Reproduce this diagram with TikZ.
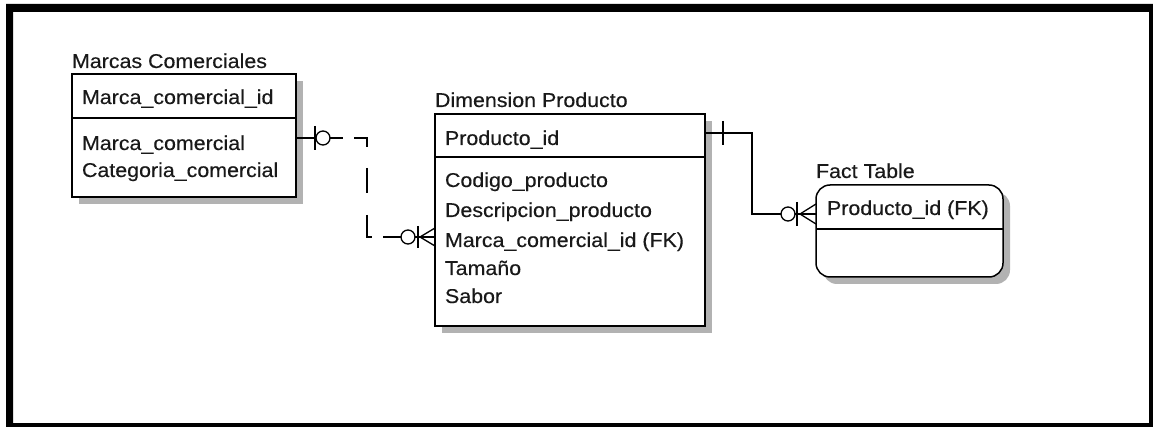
\documentclass[tikz,border=0pt]{standalone}
\usepackage{fontspec}
\setmainfont{Liberation Sans}[FakeStretch=1.07,FakeBold=0.3]
\usetikzlibrary{calc}
\begin{document}
\begin{tikzpicture}[x=1pt,y=-1pt,
  ent/.style={draw=black, line width=1.5pt, fill=white, inner sep=0pt, outer sep=0pt, anchor=north west},
  shad/.style={fill=gray!60, draw=none, inner sep=0pt, outer sep=0pt, anchor=north west},
  txt/.style={anchor=base west, inner sep=0pt, outer sep=0pt, text=black!90, font=\fontsize{20}{22}\selectfont},
  rel/.style={line width=1.3pt},
  sep/.style={line width=1.5pt},
]
\useasboundingbox (0,0) rectangle (1153,427);
\fill[white] (0,0) rectangle (1153,427);
% outer frame
\fill[black, even odd rule] (6,4) rectangle (1153,427) (13,12) rectangle (1149,423);

% Marcas Comerciales
\node[shad, minimum width=224pt, minimum height=123pt] (mcs) at (79,81) {};
\node[ent, minimum width=224pt, minimum height=123pt] (mc) at (72,74) {};
\draw[sep] ($(mc.north west)+(0,44)$) -- ($(mc.north east)+(0,44)$);
\node[txt] (mct) at (72,68) {Marcas Comerciales};
\node[txt] (mc1) at (82,104) {Marca\_comercial\_id};
\node[txt] (mc2) at (82,150) {Marca\_comercial};
\node[txt] (mc3) at (82,177) {Categoria\_comercial};

% Dimension Producto
\node[shad, minimum width=270pt, minimum height=212pt] (dps) at (442,121) {};
\node[ent, minimum width=270pt, minimum height=212pt] (dp) at (435,114) {};
\draw[sep] ($(dp.north west)+(0,43)$) -- ($(dp.north east)+(0,43)$);
\node[txt] (dpt) at (435,107) {Dimension Producto};
\node[txt] (dp1) at (445,145) {Producto\_id};
\node[txt] (dp2) at (445,187) {Codigo\_producto};
\node[txt] (dp3) at (445,217) {Descripcion\_producto};
\node[txt] (dp4) at (445,247) {Marca\_comercial\_id (FK)};
\node[txt] (dp5) at (445,275) {Tamaño};
\node[txt] (dp6) at (445,303) {Sabor};

% Fact Table
\node[shad, rounded corners=14pt, minimum width=187pt, minimum height=92pt] (fts) at (823,192) {};
\node[ent, rounded corners=14pt, minimum width=187pt, minimum height=92pt] (ft) at (816,185) {};
\draw[sep] ($(ft.north west)+(0,44)$) -- ($(ft.north east)+(0,44)$);
\node[txt] (ftt) at (816,178) {Fact Table};
\node[txt] (ft1) at (827,215) {Producto\_id (FK)};

% connector 1 (dashed, zero-or-one to zero-or-many)
\coordinate (c1s) at ($(mc.north east)+(0,64)$);
\coordinate (c1e) at ($(dp.north west)+(0,123)$);
\draw[rel, dash pattern=on 47pt off 11pt on 22pt off 21pt on 25pt off 22pt on 27pt off 11pt on 60pt]
  (c1s) -- ++(71,0) |- (c1e);
\draw[rel] ($(c1s)+(19,-12)$) -- ($(c1s)+(19,12)$);
\draw[rel, fill=white] ($(c1s)+(27,0)$) circle (7);
\draw[rel, fill=white] ($(c1e)+(-27,0)$) circle (7);
\draw[rel] ($(c1e)+(-17,-11)$) -- ($(c1e)+(-17,11)$);
\draw[rel] ($(c1e)+(0,-9)$) -- ($(c1e)+(-15,0)$) -- ($(c1e)+(0,9)$);

% connector 2 (solid, one to zero-or-many)
\coordinate (c2s) at ($(dp.north east)+(0,19)$);
\coordinate (c2e) at ($(ft.north west)+(0,29)$);
\draw[rel] (c2s) -- ++(47,0) |- (c2e);
\draw[rel] ($(c2s)+(18,-12)$) -- ($(c2s)+(18,12)$);
\draw[rel, fill=white] ($(c2e)+(-28,0)$) circle (7);
\draw[rel] ($(c2e)+(-19,-12)$) -- ($(c2e)+(-19,12)$);
\draw[rel] ($(c2e)+(0,-10)$) -- ($(c2e)+(-16,0)$) -- ($(c2e)+(0,10)$);
\end{tikzpicture}
\end{document}
